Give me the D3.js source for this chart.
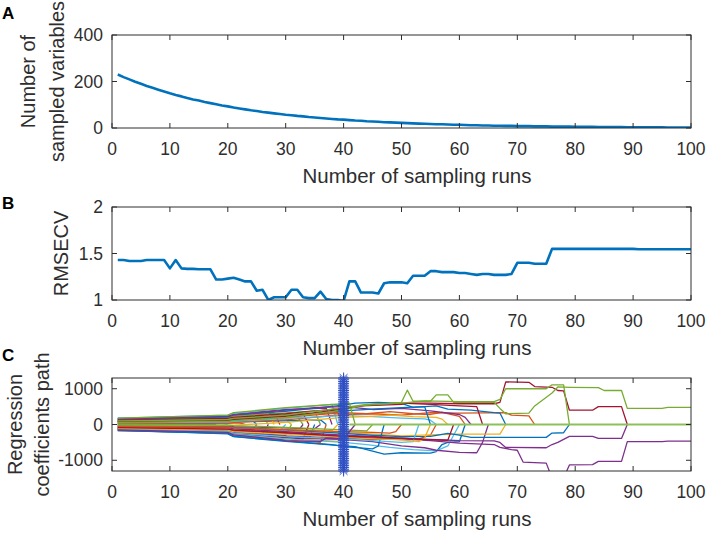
<!DOCTYPE html>
<html><head><meta charset="utf-8">
<script src="https://cdn.jsdelivr.net/npm/d3@7"></script>
<style>
body{margin:0;background:#fff}
svg{display:block}
text{font-family:"Liberation Sans",Arial,Helvetica,sans-serif}
</style>
</head><body>
<svg id="chart" width="708" height="535"></svg>
<script>
// ---------------- DATA ----------------
const xTicks = [0, 10, 20, 30, 40, 50, 60, 70, 80, 90, 100];
const aTicks = [0, 200, 400];
const bTicks = [1, 1.5, 2];
const cTicks = [-1000, 0, 1000];

// Panel A: number of sampled variables per run (runs 1..100)
const sampledVars = [230,219,209,199,190,181,173,165,157,149,142,136,129,123,118,112,107,102,97,93,
  88,84,80,76,73,69,66,63,60,57,55,52,50,47,45,43,41,39,37,36,
  34,32,31,29,28,27,25,24,23,22,21,20,19,18,17,16,16,15,14,14,
  13,12,12,11,11,10,10,9,9,8,8,8,7,7,7,6,6,6,6,5,
  5,5,5,4,4,4,4,4,3,3,3,3,3,3,3,2,2,2,2,2];

// Panel B: RMSECV per run (runs 1..100)
const rmsecv = [1.43,1.43,1.42,1.42,1.42,1.43,1.43,1.43,1.43,1.34,
  1.43,1.34,1.335,1.335,1.33,1.33,1.33,1.22,1.22,1.23,
  1.24,1.22,1.20,1.20,1.10,1.11,1.00,1.03,1.03,1.03,
  1.11,1.11,1.03,1.02,1.02,1.09,1.01,1.00,1.00,0.99,
  1.20,1.20,1.08,1.08,1.08,1.07,1.18,1.19,1.19,1.19,
  1.18,1.26,1.26,1.26,1.31,1.31,1.30,1.30,1.30,1.29,
  1.29,1.28,1.27,1.28,1.28,1.27,1.27,1.27,1.28,1.40,
  1.40,1.40,1.39,1.39,1.39,1.55,1.55,1.55,1.55,1.55,
  1.55,1.55,1.55,1.55,1.55,1.55,1.55,1.55,1.55,1.55,
  1.545,1.545,1.545,1.545,1.545,1.545,1.545,1.545,1.545,1.545];

// Panel C: regression coefficient paths, [colorIndex, [[run, value], ...]]
const lineColors = ["#0072BD","#D95319","#EDB120","#7E2F8E","#77AC30","#4DBEEE","#A2142F"];
const coefPaths = [
  [5, [[1,120],[20,170],[21,200],[26,250],[27,0]]],
  [1, [[1,-100],[20,-140],[21,-170],[24,-200],[25,0]]],
  [2, [[1,60],[20,85],[21,100],[30,140],[31,0]]],
  [3, [[1,170],[20,240],[21,290],[30,420],[37,460],[38,0]]],
  [6, [[1,140],[20,200],[21,240],[28,320],[29,0]]],
  [0, [[1,-130],[20,-190],[21,-250],[30,-380],[34,-420],[35,0]]],
  [4, [[1,90],[20,130],[21,150],[32,220],[33,0]]],
  [5, [[1,-60],[20,-90],[21,-110],[29,-160],[30,0]]],
  [1, [[1,20],[20,30],[21,40],[22,45],[23,0]]],
  [2, [[1,-150],[20,-210],[21,-260],[30,-380],[39,-470],[40,0]]],
  [3, [[1,-30],[20,-50],[21,-60],[35,-120],[36,0]]],
  [6, [[1,110],[20,150],[21,180],[30,270],[33,300],[34,0]]],
  [0, [[1,40],[20,60],[21,70],[36,130],[37,0]]],
  [4, [[1,-110],[20,-160],[21,-200],[30,-300],[31,0]]],
  [5, [[1,180],[20,260],[21,310],[30,450],[38,560],[39,0]]],
  [1, [[1,-170],[20,-240],[21,-300],[30,-430],[36,-500],[37,0]]],
  [2, [[1,150],[20,210],[21,250],[27,310],[28,0]]],
  [3, [[1,-80],[20,-110],[21,-140],[32,-210],[33,0]]],
  [6, [[1,-120],[20,-170],[21,-210],[26,-260],[27,0]]],
  [0, [[1,75],[20,110],[21,130],[24,150],[25,0]]],
  [4, [[1,130],[20,190],[21,220],[35,380],[36,0]]],
  [5, [[1,-20],[19,-30],[20,0]]],
  [1, [[1,100],[20,140],[21,170],[39,330],[40,0]]],
  [2, [[1,-50],[20,-75],[21,-90],[38,-170],[39,0]]],
  [3, [[1,5],[17,8],[18,0]]],
  [6, [[1,-140],[20,-200],[21,-250],[33,-400],[34,0]]],
  [0, [[1,-160],[20,-260],[21,-340],[30,-470],[40,-600],[42,-620],[44,-700],[47,-830],[50,-790],[55,-800],[56,-760],[57,-560],[58,-500],[60,-480],[61,0]]],
  [5, [[1,-140],[20,-210],[21,-280],[30,-400],[40,-500],[44,-560],[48,-640],[52,-700],[56,-740],[58,-600],[59,-300],[60,0]]],
  [3, [[1,-100],[20,-150],[21,-200],[30,-330],[33,-380],[40,-420],[45,-480],[50,-600],[54,-650],[56,-720],[60,-780],[63,-790],[64,-500],[65,0]]],
  [1, [[1,-90],[20,-130],[21,-160],[30,-250],[40,-330],[45,-380],[50,-420],[53,-400],[55,-300],[56,0]]],
  [2, [[1,-70],[20,-100],[21,-130],[30,-190],[40,-230],[45,-260],[50,-320],[55,-290],[60,-270],[67,-270],[68,0]]],
  [0, [[1,-40],[20,-60],[21,-80],[30,-150],[40,-250],[45,-300],[50,-340],[55,-330],[58,-250],[60,-300],[62,-360],[75,-360],[76,-240],[78,-230],[79,0]]],
  [3, [[1,-120],[20,-170],[21,-220],[30,-320],[40,-380],[45,-420],[50,-380],[55,-420],[60,-450],[66,-460],[67,-500],[68,-640],[75,-650],[76,-560],[77,-500],[79,-330],[83,-330],[84,-390],[88,-390],[89,0]]],
  [3, [[1,-60],[20,-90],[21,-120],[30,-200],[40,-300],[45,-330],[50,-400],[55,-450],[60,-520],[66,-560],[67,-640],[69,-700],[70,-720],[71,-1050],[75,-1080],[76,-1500],[78,-1500],[79,-1130],[83,-1120],[84,-1030],[88,-1030],[89,-480],[95,-480],[96,-465],[100,-465]]],
  [1, [[1,30],[20,45],[21,60],[30,130],[40,280],[45,300],[50,260],[55,330],[60,320],[68,330],[69,260],[72,240],[73,0]]],
  [0, [[1,150],[20,210],[21,260],[30,370],[40,540],[42,600],[46,620],[50,590],[52,480],[56,520],[58,430],[62,400],[66,330],[67,320],[68,0]]],
  [5, [[1,50],[20,70],[21,90],[30,170],[40,250],[45,220],[50,180],[54,160],[55,120],[56,0]]],
  [2, [[1,-10],[20,-15],[21,-20],[30,60],[40,200],[44,220],[48,260],[52,220],[56,200],[57,150],[58,0]]],
  [1, [[1,70],[20,100],[21,120],[30,200],[40,330],[44,300],[48,360],[52,300],[55,280],[57,340],[60,230],[61,0]]],
  [6, [[1,120],[20,170],[21,200],[30,300],[40,450],[45,560],[50,600],[55,560],[60,520],[63,500],[64,0]]],
  [3, [[1,160],[20,230],[21,270],[30,400],[35,470],[40,500],[45,420],[50,450],[55,380],[60,280],[61,200],[62,0]]],
  [4, [[1,0],[20,-20],[21,-30],[30,-80],[40,-150],[44,-180],[45,0]]],
  [0, [[1,-170],[20,-250],[21,-330],[30,-460],[38,-560],[40,-620],[45,-680],[46,-600],[47,0]]],
  [5, [[1,-130],[20,-190],[21,-240],[30,-340],[40,-400],[45,-450],[50,-500],[52,-480],[53,0]]],
  [1, [[1,-50],[20,-70],[21,-90],[30,-150],[40,-200],[45,-220],[48,-240],[49,-200],[50,0]]],
  [2, [[1,-110],[20,-160],[21,-200],[30,-270],[40,-360],[45,-400],[50,-430],[53,-480],[54,-380],[55,0]]],
  [6, [[1,-90],[20,-130],[21,-160],[30,-230],[40,-330],[45,-350],[50,-380],[54,-420],[58,-440],[59,0]]],
  [3, [[1,-150],[20,-220],[21,-290],[29,-420],[30,-460],[36,-470],[37,-380],[40,-400],[42,0]]],
  [0, [[1,90],[20,130],[21,160],[30,250],[40,380],[45,430],[50,470],[54,500],[55,0]]],
  [4, [[1,180],[20,260],[21,330],[30,470],[40,580],[41,600],[42,0]]],
  [6, [[1,80],[20,110],[21,140],[30,230],[40,430],[43,520],[50,560],[51,600],[55,600],[60,580],[66,580],[67,620],[68,1190],[72,1180],[73,1060],[76,1040],[77,950],[78,940],[79,400],[83,400],[84,500],[88,500],[89,0]]],
  [4, [[1,100],[20,140],[21,170],[30,260],[40,470],[44,560],[50,600],[54,660],[60,640],[66,640],[67,700],[68,1000],[75,1000],[76,1110],[78,1110],[79,0]]],
  [4, [[1,60],[20,90],[21,110],[30,200],[40,400],[43,530],[46,560],[50,620],[51,960],[52,650],[55,650],[56,830],[58,830],[59,620],[66,620],[67,450],[68,300],[72,320],[73,520],[76,880],[77,1050],[79,1040],[84,1030],[85,950],[88,950],[89,450],[95,450],[96,480],[100,480]]]
];
const zeroLine = [[41,0],[100,0]];
const optimalRun = 40;
const markerValues = [-1300,-1250,-1200,-1150,-1100,-1050,-1000,-950,-900,-850,-800,-750,-700,-650,-600,-550,-500,-450,-400,-350,-300,-250,-200,-150,-100,-50,0,
  50,100,150,200,250,300,350,400,450,500,550,600,650,700,750,800,850,900,950,1000,1050,1100,1150,1200,1250,1300];

// ---------------- LAYOUT ----------------
const svg = d3.select("#chart");
const X0 = 112, X1 = 691;
const ink = "#2e2e2e";
const x = d3.scaleLinear().domain([0, 100]).range([X0, X1]);

const panels = [
  {id:"A", top:35, bottom:128, domain:[0,400], ticks:aTicks, letterY:19,
   ylab:["Number of","sampled variables"], ylabX:[35,64]},
  {id:"B", top:207, bottom:300, domain:[1,2], ticks:bTicks, letterY:209,
   ylab:["RMSECV"], ylabX:[68]},
  {id:"C", top:378, bottom:471, domain:[-1300,1300], ticks:cTicks, letterY:361,
   ylab:["Regression","coefficients path"], ylabX:[22,49]}
];

panels.forEach(p => {
  p.y = d3.scaleLinear().domain(p.domain).range([p.bottom, p.top]);
  const g = svg.append("g");
  p.g = g;
  svg.append("defs").append("clipPath").attr("id","clip"+p.id)
    .append("rect").attr("x",X0).attr("y",p.top).attr("width",X1-X0).attr("height",p.bottom-p.top);
  p.plot = g.append("g").attr("clip-path","url(#clip"+p.id+")");
});

function drawFrame(p) {
  const g = p.g;
  const tl = 5;
  g.append("rect").attr("x",X0).attr("y",p.top).attr("width",X1-X0).attr("height",p.bottom-p.top)
    .attr("fill","none").attr("stroke",ink).attr("stroke-width",1);
  xTicks.forEach(t => {
    const xx = x(t);
    g.append("line").attr("x1",xx).attr("x2",xx).attr("y1",p.bottom).attr("y2",p.bottom-tl).attr("stroke",ink);
    g.append("line").attr("x1",xx).attr("x2",xx).attr("y1",p.top).attr("y2",p.top+tl).attr("stroke",ink);
    g.append("text").attr("x",xx).attr("y",p.bottom+27).attr("text-anchor","middle")
      .attr("font-size",17.5).attr("fill",ink).text(String(t));
  });
  p.ticks.forEach(t => {
    const yy = p.y(t);
    g.append("line").attr("x1",X0).attr("x2",X0+tl).attr("y1",yy).attr("y2",yy).attr("stroke",ink);
    g.append("line").attr("x1",X1).attr("x2",X1-tl).attr("y1",yy).attr("y2",yy).attr("stroke",ink);
    g.append("text").attr("x",X0-9).attr("y",yy+6).attr("text-anchor","end")
      .attr("font-size",17.5).attr("fill",ink).text(String(t));
  });
  g.append("text").attr("x",417).attr("y",p.bottom+55).attr("text-anchor","middle")
    .attr("font-size",20.5).attr("fill",ink).text("Number of sampling runs");
  const cy = (p.top+p.bottom)/2;
  p.ylab.forEach((s,i) => {
    g.append("text").attr("transform",`translate(${p.ylabX[i]},${cy}) rotate(-90)`)
      .attr("text-anchor","middle").attr("font-size",20).attr("fill",ink).text(s);
  });
  svg.append("text").attr("x",2).attr("y",p.letterY).attr("font-size",17).attr("font-weight","bold")
    .attr("fill","#000").text(p.id);
}

// Panel A
const pA = panels[0];
pA.plot.append("path")
  .datum(sampledVars.map((v,i)=>[i+1,v]))
  .attr("d", d3.line().x(d=>x(d[0])).y(d=>pA.y(d[1])))
  .attr("fill","none").attr("stroke","#0072BD").attr("stroke-width",2.6).attr("stroke-linejoin","round");

// Panel B
const pB = panels[1];
pB.plot.append("path")
  .datum(rmsecv.map((v,i)=>[i+1,v]))
  .attr("d", d3.line().x(d=>x(d[0])).y(d=>pB.y(d[1])))
  .attr("fill","none").attr("stroke","#0072BD").attr("stroke-width",2.6).attr("stroke-linejoin","round");

// Panel C
const pC = panels[2];
const cLine = d3.line().x(d=>x(d[0])).y(d=>pC.y(d[1]));
coefPaths.forEach(([ci, pts]) => {
  pC.plot.append("path").datum(pts).attr("d", cLine)
    .attr("fill","none").attr("stroke",lineColors[ci]).attr("stroke-width",1.3).attr("stroke-linejoin","round");
});
pC.plot.append("path").datum(zeroLine).attr("d", cLine)
  .attr("fill","none").attr("stroke","#8cc15a").attr("stroke-width",1.8);

// optimal run marker line
const mg = svg.append("g");
const mColor = "#2e4fc4";
mg.append("line").attr("x1",x(optimalRun)).attr("x2",x(optimalRun))
  .attr("y1",pC.y(markerValues[0])).attr("y2",pC.y(markerValues[markerValues.length-1]))
  .attr("stroke",mColor).attr("stroke-width",1.5);
const star = "M-5.5,0H5.5M0,-5.5V5.5M-3.9,-3.9L3.9,3.9M-3.9,3.9L3.9,-3.9";
markerValues.forEach(v => {
  mg.append("path").attr("d",star).attr("transform",`translate(${x(optimalRun)},${pC.y(v)})`)
    .attr("fill","none").attr("stroke",mColor).attr("stroke-width",1);
});

panels.forEach(drawFrame);
</script>
</body></html>
